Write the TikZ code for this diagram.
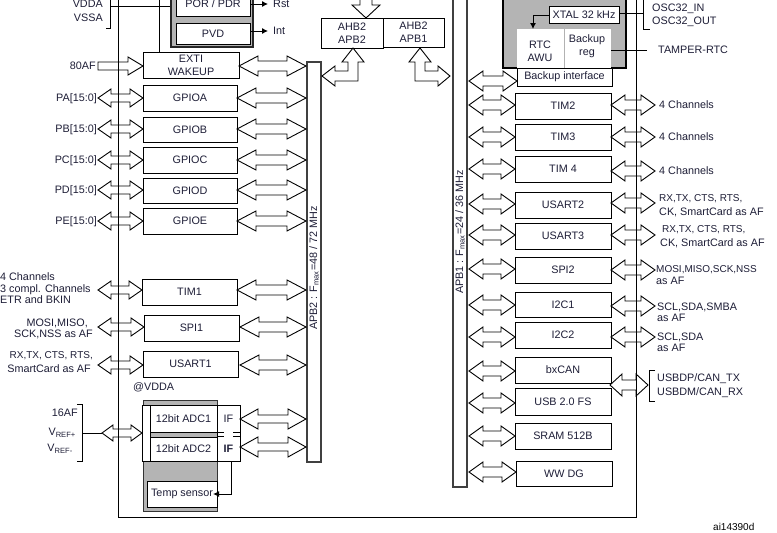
\documentclass[tikz,border=0pt]{standalone}
\usepackage{fontspec}
\setmainfont{Liberation Sans}
\usetikzlibrary{arrows.meta}
\definecolor{txt}{RGB}{30,30,55}
\definecolor{gfill}{RGB}{180,180,180}
% double block arrow: x1, x2, y, head length, half head, half shaft
\newcommand{\darr}[6]{\draw[arr] (#1,#3) -- (#1+#4,#3-#5) -- (#1+#4,#3-#6) -- (#2-#4,#3-#6) -- (#2-#4,#3-#5) -- (#2,#3) -- (#2-#4,#3+#5) -- (#2-#4,#3+#6) -- (#1+#4,#3+#6) -- (#1+#4,#3+#5) -- cycle;}
% single block arrow pointing right
\newcommand{\sarr}[6]{\draw[arr] (#1,#3-#6) -- (#2-#4,#3-#6) -- (#2-#4,#3-#5) -- (#2,#3) -- (#2-#4,#3+#5) -- (#2-#4,#3+#6) -- (#1,#3+#6) -- cycle;}
% box: name, x1, y1, x2, y2, text
\newcommand{\bx}[6]{\draw[box] (#2,#3) rectangle (#4,#5); \node[lbl] (#1) at ({(#2+#4)/2},{(#3+#5)/2}) {#6};}
\begin{document}
\begin{tikzpicture}[x=1pt,y=-1pt,line join=miter,
  arr/.style={draw=black,line width=0.9pt},
  box/.style={draw=black,line width=1pt,fill=white},
  lbl/.style={text=txt,font=\fontsize{10.8}{12.8}\selectfont,inner sep=0pt,align=center},
  sl/.style={lbl,text height=7.7pt,text depth=0pt},
  small/.style={font=\fontsize{10}{12}\selectfont},
  wire/.style={line width=0.9pt},
  bar/.style={draw=black!75,line width=1.1pt,fill=white}]
\useasboundingbox (0,0) rectangle (777,533);
\fill[white] (0,0) rectangle (777,533);

% ---------- main frame wires ----------
\draw[wire] (118,-3) -- (118,517) -- (636,517) -- (636,-3);
\draw[wire] (110,-3) -- (110,28) -- (106,28);
\draw[wire] (110,6) -- (171,6);
\draw[wire] (159,-3) -- (159,52);

% ---------- POR / PVD ----------
\draw[draw=black!85,line width=2pt,fill=gfill] (171,-6) rectangle (253,47);
\bx{por}{176}{-8}{250}{16}{POR / PDR}
\bx{pvd}{176}{23}{250}{44}{PVD}
\coordinate (rstend) at (268,4);
\coordinate (intend) at (268,31);
\draw[wire,-{Latex[length=6pt,width=6pt]}] (250,4) -- (rstend);
\draw[wire,-{Latex[length=6pt,width=6pt]}] (250,31) -- (intend);
\node[sl,anchor=west] (rst) at (273,4) {Rst};
\node[sl,anchor=west] (int) at (273,31) {Int};
\node[sl,anchor=east] (vdda) at (103,4) {VDDA};
\node[sl,anchor=east] (vssa) at (103,18) {VSSA};

% ---------- buses ----------
\draw[bar] (307,62) rectangle (321,462);
\draw[bar] (453,-3) rectangle (467,487);
\node[lbl,rotate=90] (apbtwo) at (314,268) {APB2 : F\textsubscript{max}=48 / 72 MHz};
\node[lbl,rotate=90] (apbone) at (460,232) {APB1 : F\textsubscript{max}=24 / 36 MHz};

% ---------- AHB bridges ----------
\bx{ahbA}{321}{18}{383}{48}{AHB2\\APB2}
\bx{ahbB}{383}{18}{444}{47}{AHB2\\APB1}
\draw[arr] (360,-3) -- (360,5) -- (352,5) -- (366,18) -- (380,5) -- (372,5) -- (372,-3);
\draw[arr] (353,48) -- (364,62) -- (358,62) -- (358,81) -- (335,81) -- (335,86) -- (322,76) -- (335,66) -- (335,71) -- (348,71) -- (348,62) -- (342,62) -- cycle;
\draw[arr] (420,48) -- (431,62) -- (425,62) -- (425,71) -- (438,71) -- (438,66) -- (450,76) -- (438,86) -- (438,81) -- (415,81) -- (415,62) -- (409,62) -- cycle;

% ---------- APB2 side peripherals ----------
\bx{exti}{143}{52}{239}{78}{EXTI\\WAKEUP}
\bx{gpioa}{143}{85}{237}{111}{GPIOA}
\bx{gpiob}{143}{117}{237}{142}{GPIOB}
\bx{gpioc}{143}{147}{237}{173}{GPIOC}
\bx{gpiod}{143}{178}{237}{203}{GPIOD}
\bx{gpioe}{143}{208}{237}{234}{GPIOE}
\bx{tim1}{142}{279}{237}{305}{TIM1}
\bx{spi1}{144}{315}{239}{341}{SPI1}
\bx{usart1}{143}{351}{238}{377}{USART1}

\sarr{98}{143}{66}{15}{9}{4}
\darr{239}{306}{66}{19}{10}{5}
\darr{98}{143}{98}{13}{9}{4}
\darr{237}{306}{98}{19}{10}{5}
\darr{98}{143}{129}{13}{9}{4}
\darr{237}{306}{129}{19}{10}{5}
\darr{98}{143}{160}{13}{9}{4}
\darr{237}{306}{160}{19}{10}{5}
\darr{98}{143}{190}{13}{9}{4}
\darr{237}{306}{190}{19}{10}{5}
\darr{98}{143}{221}{13}{9}{4}
\darr{237}{306}{221}{19}{10}{5}
\darr{98}{142}{290}{13}{9}{4}
\darr{237}{306}{290}{19}{10}{5}
\darr{98}{144}{327}{13}{9}{4}
\darr{240}{306}{327}{19}{10}{5}
\darr{98}{143}{365}{13}{9}{4}
\darr{240}{306}{365}{19}{10}{5}

\node[sl,anchor=east] (afeighty) at (96,66) {80AF};
\node[sl,anchor=east] (pa) at (97,98) {PA[15:0]};
\node[sl,anchor=east] (pb) at (97,129) {PB[15:0]};
\node[sl,anchor=east] (pc) at (97,160) {PC[15:0]};
\node[sl,anchor=east] (pd) at (97,190) {PD[15:0]};
\node[sl,anchor=east] (pe) at (97,221) {PE[15:0]};
\node[sl,anchor=west] (tima) at (0,277) {4 Channels};
\node[sl,anchor=west] (timb) at (0,289) {3 compl. Channels};
\node[sl,anchor=west] (timc) at (0,300) {ETR and BKIN};
\node[sl,anchor=east] (spia) at (88,323) {MOSI,MISO,};
\node[sl,anchor=east] (spib) at (93,334) {SCK,NSS as AF};
\node[sl,small,anchor=east] (usa) at (93,355) {RX,TX, CTS, RTS,};
\node[sl,anchor=east] (usb1) at (91,369) {SmartCard as AF};
\node[sl,anchor=west] (atvdda) at (133,387) {@VDDA};

% ---------- ADC ----------
\draw[draw=black!80,line width=0.9pt,fill=gfill] (143,400) rectangle (217,511);
\draw[box] (142,405) rectangle (150,461);
\bx{adcone}{150}{405}{217}{432}{12bit ADC1}
\bx{adctwo}{150}{437}{217}{461}{12bit ADC2}
\draw[box] (217,405) rectangle (240,461);
\draw[wire] (217,432) -- (224,432) (233,432) -- (240,432) (217,436) -- (224,436) (233,436) -- (240,436);
\fill[white] (224.5,431) rectangle (232.5,437);
\node[sl] (ifone) at (228.5,419) {IF};
\node[sl,font=\fontsize{10.8}{12.8}\selectfont\bfseries] (iftwo) at (228.5,449) {IF};
\bx{temp}{147}{481}{217}{507}{Temp sensor}
\draw[wire,-{Latex[length=6pt,width=6pt]}] (231,461) -- (231,494) -- (temp.east |- 0,494);
\darr{240}{306}{419}{18}{10}{4}
\darr{240}{306}{447}{18}{10}{4}
\darr{102}{142}{433}{11}{8}{4}
\draw[wire] (77,404) -- (82,404) -- (82,461) -- (77,461);
\draw[wire] (82,433) -- (102,433);
\node[sl,anchor=east] (afsixteen) at (78,413) {16AF};
\node[sl,anchor=east] (vrefp) at (76,432) {V\textsubscript{REF+}};
\node[sl,anchor=east] (vrefm) at (73,448) {V\textsubscript{REF-}};

% ---------- RTC / backup domain ----------
\draw[draw=black,line width=1.2pt,fill=gfill] (503,-6) rectangle (626,68);
\fill[white] (517,29) rectangle (611,68);
\draw[black!30,line width=0.8pt] (564,29) -- (564,68);
\bx{xtal}{549}{6}{619}{23}{XTAL 32 kHz}
\node[lbl] (rtc) at (540,51) {RTC\\AWU};
\node[lbl] (bkreg) at (587,46) {Backup\\reg};
\bx{bkif}{517}{68}{612}{86}{Backup interface}
\draw[wire,-{Latex[length=6pt,width=6pt]}] (549,15) -- (533,15) -- (533,29);
\draw[wire] (619,13) -- (643,13);
\draw[wire] (643,-3) -- (643,29) -- (650,29);
\draw[wire] (611,50) -- (647,50);
\node[sl,anchor=west] (oscin) at (652,8) {OSC32\_IN};
\node[sl,anchor=west] (oscout) at (652,21) {OSC32\_OUT};
\node[sl,anchor=west] (tamper) at (658,50) {TAMPER-RTC};

% ---------- APB1 side peripherals ----------
\bx{tim2}{515}{93}{611}{119}{TIM2}
\bx{tim3}{515}{124}{611}{150}{TIM3}
\bx{tim4}{515}{156}{611}{182}{TIM 4}
\bx{usart2}{515}{192}{611}{218}{USART2}
\bx{usart3}{515}{223}{611}{249}{USART3}
\bx{spi2}{515}{257}{611}{283}{SPI2}
\bx{itwoa}{515}{292}{611}{317}{I2C1}
\bx{itwob}{515}{322}{611}{348}{I2C2}
\bx{bxcan}{515}{357}{611}{383}{bxCAN}
\bx{usbfs}{515}{388}{611}{415}{USB 2.0 FS}
\bx{sram}{515}{423}{611}{449}{SRAM 512B}
\bx{wwdg}{516}{461}{612}{486}{WW DG}

\darr{469}{517}{81}{14}{10}{5}
\darr{469}{515}{105}{14}{10}{5}
\darr{469}{515}{137}{14}{10}{5}
\darr{469}{515}{169}{14}{10}{5}
\darr{469}{515}{204}{14}{10}{5}
\darr{469}{515}{235}{14}{10}{5}
\darr{469}{515}{269}{14}{10}{5}
\darr{469}{515}{305}{14}{10}{5}
\darr{469}{515}{337}{14}{10}{5}
\darr{469}{515}{371}{14}{10}{5}
\darr{469}{515}{403}{14}{10}{5}
\darr{469}{515}{436}{14}{10}{5}
\darr{469}{516}{472}{14}{10}{5}

\darr{611}{655}{105}{14}{10}{5}
\darr{611}{655}{137}{14}{10}{5}
\darr{611}{655}{171}{14}{10}{5}
\darr{611}{655}{203}{14}{10}{5}
\darr{611}{655}{235}{14}{10}{5}
\darr{611}{655}{270}{14}{10}{5}
\darr{611}{655}{306}{14}{10}{5}
\darr{611}{655}{337}{14}{10}{5}
\darr{610}{648}{385}{12}{11}{5}
\draw[wire] (655,370) -- (649,370) -- (649,401) -- (655,401);

\node[sl,anchor=west] (chtwo) at (659,105) {4 Channels};
\node[sl,anchor=west] (chthree) at (659,137) {4 Channels};
\node[sl,anchor=west] (chfour) at (659,171) {4 Channels};
\node[sl,small,anchor=west] (uatwo) at (659,198) {RX,TX, CTS, RTS,};
\node[sl,anchor=west] (ubtwo) at (659,212) {CK, SmartCard as AF};
\node[sl,small,anchor=west] (uathree) at (662,229) {RX,TX, CTS, RTS,};
\node[sl,anchor=west] (ubthree) at (660,243) {CK, SmartCard as AF};
\node[sl,small,anchor=west] (spitwoa) at (656,269) {MOSI,MISO,SCK,NSS};
\node[sl,anchor=west] (spitwob) at (656,281) {as AF};
\node[sl,anchor=west] (icaa) at (657,307) {SCL,SDA,SMBA};
\node[sl,anchor=west] (icab) at (657,318) {as AF};
\node[sl,anchor=west] (icba) at (657,337) {SCL,SDA};
\node[sl,anchor=west] (icbb) at (657,348) {as AF};
\node[sl,anchor=west] (usbtx) at (657,378) {USBDP/CAN\_TX};
\node[sl,anchor=west] (usbrx) at (657,392) {USBDM/CAN\_RX};
\node[sl,anchor=west,text=black,font=\fontsize{10}{12}\selectfont] (ref) at (713,527) {ai14390d};
\end{tikzpicture}
\end{document}
